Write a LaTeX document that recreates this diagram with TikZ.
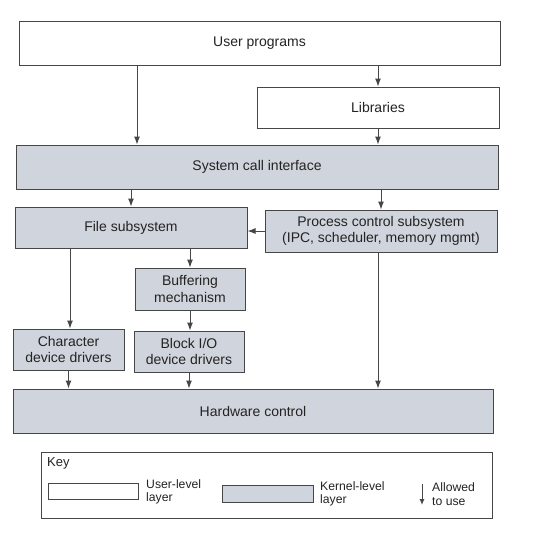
\documentclass[tikz,border=0pt]{standalone}
\usepackage{fontspec}
\setmainfont{Liberation Sans}
\usepackage{xcolor}
\usetikzlibrary{arrows.meta}
\definecolor{kernelgray}{RGB}{208,212,220}
\definecolor{linegray}{RGB}{70,70,70}
\definecolor{textgray}{RGB}{35,35,35}

\begin{document}
\begin{tikzpicture}[x=1pt, y=-1pt, >={Latex[length=8pt,width=6pt]},
    userbox/.style={rectangle,draw=linegray,line width=1pt,fill=white,inner sep=0pt,align=center,text=textgray,font=\fontsize{14}{16.5}\selectfont},
    kernbox/.style={userbox,fill=kernelgray},
    keytext/.style={inner sep=0pt,align=left,text=textgray,font=\fontsize{12.2}{13.5}\selectfont}]
    \useasboundingbox (0,0) rectangle (534,558);

    \node[userbox,minimum width=481pt,minimum height=44pt] (user) at (259.5,43) {User programs};
    \node[userbox,minimum width=242pt,minimum height=41pt] (lib) at (378,107.5) {Libraries};
    \node[kernbox,minimum width=482pt,minimum height=44pt] (sci) at (257,167) {System call interface};
    \node[kernbox,minimum width=232pt,minimum height=41pt] (fs) at (131,227.5) {File subsystem};
    \node[kernbox,minimum width=232pt,minimum height=42pt] (pcs) at (381,231) {Process control subsystem\\(IPC, scheduler, memory mgmt)};
    \node[kernbox,minimum width=110pt,minimum height=42pt] (buf) at (190,289) {Buffering\\mechanism};
    \node[kernbox,minimum width=111pt,minimum height=41pt] (chr) at (68.5,349.5) {Character\\device drivers};
    \node[kernbox,minimum width=110pt,minimum height=41pt] (blk) at (189,351.5) {Block I/O\\device drivers};
    \node[kernbox,minimum width=480pt,minimum height=44pt] (hw) at (253,411) {Hardware control};

    \draw[->,linegray,line width=1pt] ([xshift=-122.5pt]user.south) -- ([xshift=-122.5pt]user.south |- sci.north);
    \draw[->,linegray,line width=1pt] (lib.north |- user.south) -- (lib.north);
    \draw[->,linegray,line width=1pt] (lib.south) -- (lib.south |- sci.north);
    \draw[->,linegray,line width=1pt] (fs.north |- sci.south) -- (fs.north);
    \draw[->,linegray,line width=1pt] (pcs.north |- sci.south) -- (pcs.north);
    \draw[->,linegray,line width=1pt] (pcs.west) -- (pcs.west -| fs.east);
    \draw[->,linegray,line width=1pt] (buf.north |- fs.south) -- (buf.north);
    \draw[->,linegray,line width=1pt] ([xshift=1.5pt]chr.north |- fs.south) -- ([xshift=1.5pt]chr.north);
    \draw[->,linegray,line width=1pt] (buf.south) -- (buf.south |- blk.north);
    \draw[->,linegray,line width=1pt] (chr.south) -- (chr.south |- hw.north);
    \draw[->,linegray,line width=1pt] (blk.south) -- (blk.south |- hw.north);
    \draw[->,linegray,line width=1pt] ([xshift=-3pt]pcs.south) -- ([xshift=-3pt]pcs.south |- hw.north);

    % key
    \node[draw=linegray,line width=1pt,minimum width=451pt,minimum height=66pt,inner sep=0pt] (key) at (266.5,485) {};
    \node[keytext,anchor=north west,font=\fontsize{13}{14}\selectfont] (keylabel) at (47,457) {Key};
    \node[userbox,minimum width=90pt,minimum height=16pt] (keyuser) at (93,491) {};
    \node[keytext,anchor=west] (keyusertext) at (146,492) {User-level\\layer};
    \node[kernbox,minimum width=91pt,minimum height=17pt] (keykern) at (267.5,493.5) {};
    \node[keytext,anchor=west] (keykerntext) at (320,494) {Kernel-level\\layer};
    \coordinate (arrtop) at (422,484);
    \coordinate (arrbot) at (422,505);
    \draw[->,linegray,line width=1pt,>={Latex[length=6pt,width=5pt]}] (arrtop) -- (arrbot);
    \node[keytext,anchor=west] (keyarrtext) at (432,494) {Allowed\\to use};
\end{tikzpicture}
\end{document}
